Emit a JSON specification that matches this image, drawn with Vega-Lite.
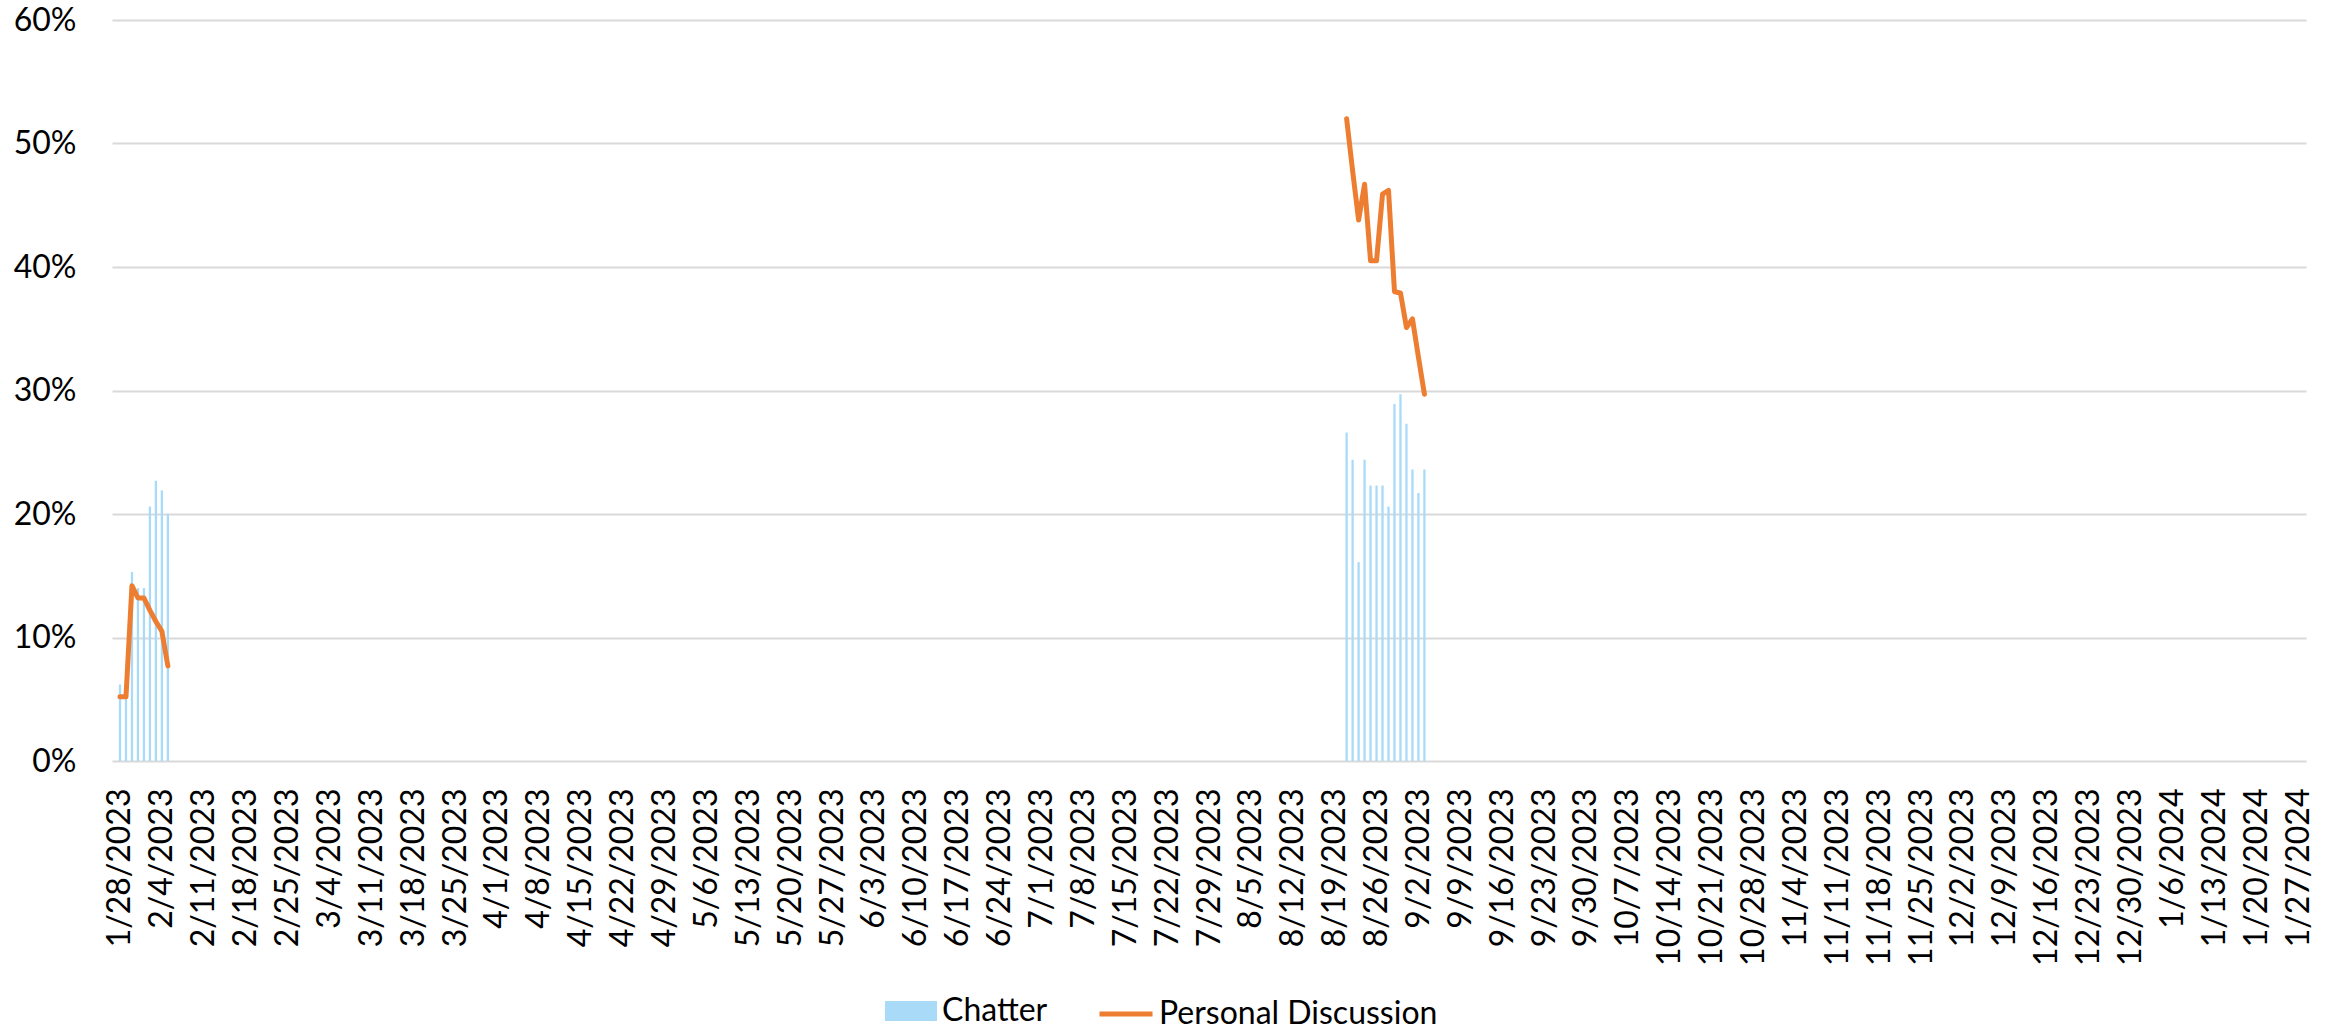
{
  "$schema": "https://vega.github.io/schema/vega-lite/v6.json",
  "width": 2194,
  "height": 741,
  "autosize": {"type": "none"},
  "padding": {"left": 112, "top": 20, "right": 33, "bottom": 267},
  "background": "white",
  "config": {
    "view": {"stroke": null},
    "font": "Lato",
    "axis": {"labelFont": "Lato", "labelFontSize": 32, "labelColor": "#000000", "title": null},
    "legend": {"labelFont": "Lato", "labelFontSize": 32, "labelColor": "#000000", "labelLimit": 500}
  },
  "data": {
    "values": [
      {"date": "2023-01-28", "chatter": 0.062, "personal": 0.052, "period": "p1"},
      {"date": "2023-01-29", "chatter": 0.052, "personal": 0.052, "period": "p1"},
      {"date": "2023-01-30", "chatter": 0.153, "personal": 0.142, "period": "p1"},
      {"date": "2023-01-31", "chatter": 0.140, "personal": 0.132, "period": "p1"},
      {"date": "2023-02-01", "chatter": 0.140, "personal": 0.132, "period": "p1"},
      {"date": "2023-02-02", "chatter": 0.206, "personal": 0.122, "period": "p1"},
      {"date": "2023-02-03", "chatter": 0.227, "personal": 0.113, "period": "p1"},
      {"date": "2023-02-04", "chatter": 0.219, "personal": 0.105, "period": "p1"},
      {"date": "2023-02-05", "chatter": 0.200, "personal": 0.077, "period": "p1"},
      {"date": "2023-08-21", "chatter": 0.266, "personal": 0.520, "period": "p2"},
      {"date": "2023-08-22", "chatter": 0.244, "personal": 0.478, "period": "p2"},
      {"date": "2023-08-23", "chatter": 0.161, "personal": 0.438, "period": "p2"},
      {"date": "2023-08-24", "chatter": 0.244, "personal": 0.467, "period": "p2"},
      {"date": "2023-08-25", "chatter": 0.223, "personal": 0.405, "period": "p2"},
      {"date": "2023-08-26", "chatter": 0.223, "personal": 0.405, "period": "p2"},
      {"date": "2023-08-27", "chatter": 0.223, "personal": 0.459, "period": "p2"},
      {"date": "2023-08-28", "chatter": 0.206, "personal": 0.462, "period": "p2"},
      {"date": "2023-08-29", "chatter": 0.289, "personal": 0.380, "period": "p2"},
      {"date": "2023-08-30", "chatter": 0.297, "personal": 0.379, "period": "p2"},
      {"date": "2023-08-31", "chatter": 0.273, "personal": 0.351, "period": "p2"},
      {"date": "2023-09-01", "chatter": 0.236, "personal": 0.358, "period": "p2"},
      {"date": "2023-09-02", "chatter": 0.217, "personal": 0.327, "period": "p2"},
      {"date": "2023-09-03", "chatter": 0.236, "personal": 0.297, "period": "p2"}
    ]
  },
  "encoding": {
    "x": {
      "field": "date",
      "type": "temporal",
      "scale": {
        "type": "utc",
        "domain": [
          {"year": 2023, "month": 1, "date": 27, "hours": 12, "utc": true},
          {"year": 2024, "month": 1, "date": 27, "hours": 12, "utc": true}
        ]
      },
      "axis": {
        "domain": false,
        "ticks": false,
        "grid": false,
        "labelAngle": 270,
        "labelAlign": "right",
        "labelBaseline": "middle",
        "labelPadding": 27,
        "labelOverlap": false,
        "labelFlush": false,
        "labelExpr": "utcFormat(datum.value, '%-m/%-d/%Y')",
        "values": [
          {"year": 2023, "month": 1, "date": 28, "utc": true},
          {"year": 2023, "month": 2, "date": 4, "utc": true},
          {"year": 2023, "month": 2, "date": 11, "utc": true},
          {"year": 2023, "month": 2, "date": 18, "utc": true},
          {"year": 2023, "month": 2, "date": 25, "utc": true},
          {"year": 2023, "month": 3, "date": 4, "utc": true},
          {"year": 2023, "month": 3, "date": 11, "utc": true},
          {"year": 2023, "month": 3, "date": 18, "utc": true},
          {"year": 2023, "month": 3, "date": 25, "utc": true},
          {"year": 2023, "month": 4, "date": 1, "utc": true},
          {"year": 2023, "month": 4, "date": 8, "utc": true},
          {"year": 2023, "month": 4, "date": 15, "utc": true},
          {"year": 2023, "month": 4, "date": 22, "utc": true},
          {"year": 2023, "month": 4, "date": 29, "utc": true},
          {"year": 2023, "month": 5, "date": 6, "utc": true},
          {"year": 2023, "month": 5, "date": 13, "utc": true},
          {"year": 2023, "month": 5, "date": 20, "utc": true},
          {"year": 2023, "month": 5, "date": 27, "utc": true},
          {"year": 2023, "month": 6, "date": 3, "utc": true},
          {"year": 2023, "month": 6, "date": 10, "utc": true},
          {"year": 2023, "month": 6, "date": 17, "utc": true},
          {"year": 2023, "month": 6, "date": 24, "utc": true},
          {"year": 2023, "month": 7, "date": 1, "utc": true},
          {"year": 2023, "month": 7, "date": 8, "utc": true},
          {"year": 2023, "month": 7, "date": 15, "utc": true},
          {"year": 2023, "month": 7, "date": 22, "utc": true},
          {"year": 2023, "month": 7, "date": 29, "utc": true},
          {"year": 2023, "month": 8, "date": 5, "utc": true},
          {"year": 2023, "month": 8, "date": 12, "utc": true},
          {"year": 2023, "month": 8, "date": 19, "utc": true},
          {"year": 2023, "month": 8, "date": 26, "utc": true},
          {"year": 2023, "month": 9, "date": 2, "utc": true},
          {"year": 2023, "month": 9, "date": 9, "utc": true},
          {"year": 2023, "month": 9, "date": 16, "utc": true},
          {"year": 2023, "month": 9, "date": 23, "utc": true},
          {"year": 2023, "month": 9, "date": 30, "utc": true},
          {"year": 2023, "month": 10, "date": 7, "utc": true},
          {"year": 2023, "month": 10, "date": 14, "utc": true},
          {"year": 2023, "month": 10, "date": 21, "utc": true},
          {"year": 2023, "month": 10, "date": 28, "utc": true},
          {"year": 2023, "month": 11, "date": 4, "utc": true},
          {"year": 2023, "month": 11, "date": 11, "utc": true},
          {"year": 2023, "month": 11, "date": 18, "utc": true},
          {"year": 2023, "month": 11, "date": 25, "utc": true},
          {"year": 2023, "month": 12, "date": 2, "utc": true},
          {"year": 2023, "month": 12, "date": 9, "utc": true},
          {"year": 2023, "month": 12, "date": 16, "utc": true},
          {"year": 2023, "month": 12, "date": 23, "utc": true},
          {"year": 2023, "month": 12, "date": 30, "utc": true},
          {"year": 2024, "month": 1, "date": 6, "utc": true},
          {"year": 2024, "month": 1, "date": 13, "utc": true},
          {"year": 2024, "month": 1, "date": 20, "utc": true},
          {"year": 2024, "month": 1, "date": 27, "utc": true}
        ]
      }
    }
  },
  "layer": [
    {
      "mark": {"type": "bar", "width": 2.3},
      "encoding": {
        "y": {
          "field": "chatter",
          "type": "quantitative",
          "scale": {"domain": [0, 0.6], "nice": false},
          "axis": {
            "values": [0, 0.1, 0.2, 0.3, 0.4, 0.5, 0.6],
            "format": ".0%",
            "domain": false,
            "ticks": false,
            "grid": true,
            "gridColor": "#d9d9d9",
            "gridWidth": 2,
            "labelPadding": 36
          }
        },
        "fill": {
          "datum": "Chatter",
          "scale": {"domain": ["Chatter"], "range": ["#a9dbf9"]},
          "legend": {
            "title": null,
            "orient": "none",
            "legendX": 773,
            "legendY": 965,
            "symbolType": "M-1,-0.385H1V0.385H-1Z",
            "symbolSize": 2704,
            "symbolStrokeWidth": 0,
            "labelOffset": 5
          }
        }
      }
    },
    {
      "mark": {"type": "line", "strokeWidth": 5, "strokeCap": "round", "strokeJoin": "round"},
      "encoding": {
        "y": {"field": "personal", "type": "quantitative"},
        "detail": {"field": "period", "type": "nominal"},
        "stroke": {
          "datum": "Personal Discussion",
          "scale": {"domain": ["Personal Discussion"], "range": ["#ed7d31"]},
          "legend": {
            "title": null,
            "orient": "none",
            "legendX": 985,
            "legendY": 965,
            "symbolType": "stroke",
            "symbolSize": 2809,
            "symbolStrokeWidth": 5,
            "symbolStrokeCap": "round",
            "labelOffset": 4
          }
        }
      }
    }
  ]
}
